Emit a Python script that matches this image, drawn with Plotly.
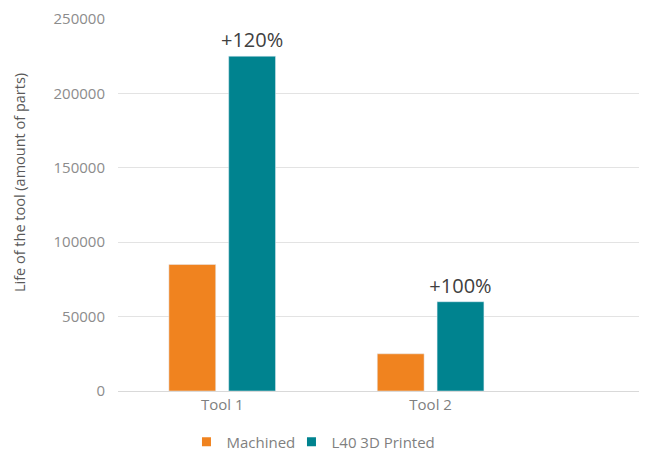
import plotly.graph_objects as go

tools = ["Tool 1", "Tool 2"]
machined = [85000, 25000]
printed = [225000, 60000]
gains = ["+120%", "+100%"]

orange = "#F0831F"
teal = "#00838F"

fig = go.Figure()
fig.add_trace(go.Bar(x=tools, y=machined, name="Machined", marker_color=orange, showlegend=False))
fig.add_trace(go.Bar(x=tools, y=printed, name="L40 3D Printed", marker_color=teal, showlegend=False,
                     text=gains, textposition="outside", cliponaxis=False, constraintext="none",
                     textfont=dict(size=20, color="#404040")))
# small square legend keys like the original
fig.add_trace(go.Scatter(x=[None], y=[None], mode="markers", name="Machined",
                         marker=dict(symbol="square", size=9, color=orange)))
fig.add_trace(go.Scatter(x=[None], y=[None], mode="markers", name="L40 3D Printed",
                         marker=dict(symbol="square", size=9, color=teal)))
# blank spacer entry so the last label isn't clipped by the fixed entry width
fig.add_trace(go.Scatter(x=[None], y=[None], mode="markers", name=" ",
                         marker=dict(symbol="square", size=9, color="rgba(0,0,0,0)")))

# page body has an 8px margin, so the figure is a bit smaller than the window
fig.update_layout(
    width=642, height=453,
    margin=dict(l=110, r=11, t=11, b=70, autoexpand=False),
    plot_bgcolor="white", paper_bgcolor="white",
    font=dict(family="Open Sans", size=15, color="#7f7f7f"),
    barmode="group", bargap=0.426, bargroupgap=0.217,
    legend=dict(orientation="h", xref="container", x=0.278, xanchor="left",
                yref="container", y=0.042, yanchor="middle",
                entrywidth=60, entrywidthmode="pixels",
                font=dict(size=15, color="#7f7f7f"), itemwidth=30),
)
fig.update_xaxes(range=[-0.5, 2.0], showgrid=False, showline=True, linecolor="#d9d9d9",
                 ticks="", tickfont=dict(color="#7f7f7f", size=15))
fig.update_yaxes(range=[0, 250000], dtick=50000, showgrid=True, gridcolor="#e3e3e3",
                 zeroline=False, tickformat="d", ticks="", ticklabelstandoff=12,
                 tickfont=dict(color="#8c8c8c", size=15))
fig.add_annotation(text="Life of the tool (amount of parts)", textangle=-90,
                   xref="paper", x=-0.19, xanchor="center", yref="paper", y=0.559,
                   showarrow=False, font=dict(size=14.5, color="#595959"))

fig.write_html("out.html")
